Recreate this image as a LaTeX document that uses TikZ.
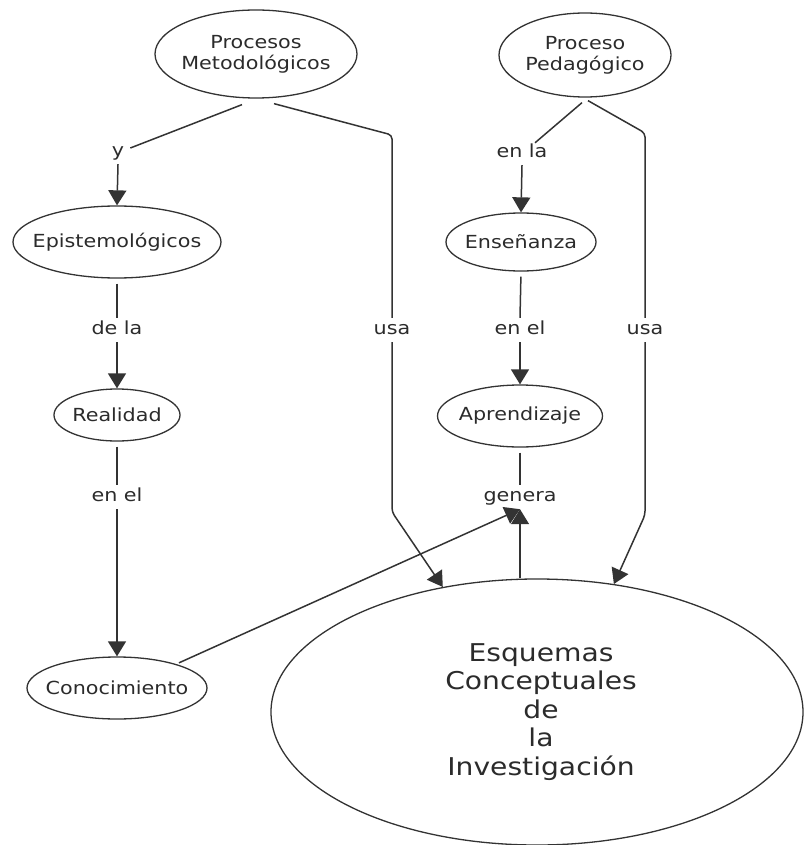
\documentclass[tikz,border=0pt]{standalone}
\usepackage{fontspec}
\setmainfont{DejaVu Sans}[FakeStretch=1.15]
\usetikzlibrary{shapes.geometric,arrows.meta,calc}
\definecolor{ink}{HTML}{333333}
\definecolor{txt}{HTML}{2B2B2B}
\begin{document}
\begin{tikzpicture}[x=1pt,y=-1pt,
  conceptfont/.style={text=txt,align=center,font=\fontsize{18}{21}\selectfont},
  concept/.style={ellipse,draw=ink,line width=1.3pt,inner sep=0pt},
  phrase/.style={text=txt,font=\fontsize{18}{21}\selectfont,inner xsep=3pt,inner ysep=3.5pt,text height=13pt,text depth=4pt},
  link/.style={draw=ink,line width=1.5pt},
  arrow/.style={link,-{Triangle[width=18pt,length=15pt]}},
]
\useasboundingbox (0,0) rectangle (804,845);

% concepts
\node[concept,minimum width=202pt,minimum height=88pt,
  label={[conceptfont]center:Procesos\\Metodológicos}] (pm) at (256,54) {};
\node[concept,minimum width=172pt,minimum height=84pt,
  label={[conceptfont]center:Proceso\\Pedagógico}] (pp) at (585,55) {};
\node[concept,minimum width=208pt,minimum height=72pt,
  label={[conceptfont]center:Epistemológicos}] (epi) at (117,242) {};
\node[concept,minimum width=126pt,minimum height=52pt,
  label={[conceptfont]center:Realidad}] (rea) at (117,415) {};
\node[concept,minimum width=180pt,minimum height=62pt,
  label={[conceptfont]center:Conocimiento}] (con) at (117,688) {};
\node[concept,minimum width=150pt,minimum height=58pt,
  label={[conceptfont]center:Enseñanza}] (ens) at (521,242) {};
\node[concept,minimum width=165pt,minimum height=62pt,
  label={[conceptfont]center:Aprendizaje}] (apr) at (520,416) {};
\node[concept,minimum width=532pt,minimum height=266pt,
  label={[conceptfont,font=\fontsize{24.5}{28.5}\selectfont,xshift=4pt]center:Esquemas\\Conceptuales\\de\\la\\Investigación}] (esq) at (537,712) {};

% linking phrases
\node[phrase] (ly) at (118,152) {y};
\node[phrase] (lde) at (117,330) {de la};
\node[phrase] (len1) at (117,497) {en el};
\node[phrase] (lenla) at (522,153) {en la};
\node[phrase] (len2) at (520,330) {en el};
\node[phrase] (usa1) at (392,330) {usa};
\node[phrase] (usa2) at (645,330) {usa};
\node[phrase] (gen) at (520,497) {genera};

% bends of the long connectors
\coordinate (k1) at (392,135);
\coordinate (k2) at (392,512);
\coordinate (k3) at (645,133);
\coordinate (k4) at (645,515);

% left column
\draw[link] ($(pm.south)+(-14,6)$) -- ($(ly.east)+(3,-4)$);
\draw[arrow] (ly.south) -- (epi.north);
\draw[link,shorten <=5pt] (epi.south) -- (lde.north);
\draw[arrow] (lde.south) -- (rea.north);
\draw[link,shorten <=5pt] (rea.south) -- (len1.north);
\draw[arrow] (len1.south) -- (con.north);

% "usa" connectors
\draw[link,rounded corners=4pt] ($(pm.south)+(18,5)$) -- (k1) -- (usa1.north);
\draw[arrow,rounded corners=4pt] (usa1.south) -- (k2) -- (esq.127.5);
\draw[link,rounded corners=4pt] ($(pp.south)+(3,3)$) -- (k3) -- (usa2.north);
\draw[arrow,rounded corners=4pt] (usa2.south) -- (k4) -- (esq.59);

% right column
\draw[link] ($(pp.south)+(-3,5)$) -- ($(lenla.north)+(13,2)$);
\draw[arrow] (lenla.south) -- (ens.north);
\draw[link,shorten <=5pt] (ens.south) -- (len2.north);
\draw[arrow] (len2.south) -- (apr.north);
\draw[link,shorten <=5pt] (apr.south) -- (gen.north);
\draw[arrow] (gen.south |- esq.north) -- (gen.south);
\draw[arrow,shorten <=3pt] (con.22) -- (gen.south);
\end{tikzpicture}
\end{document}
